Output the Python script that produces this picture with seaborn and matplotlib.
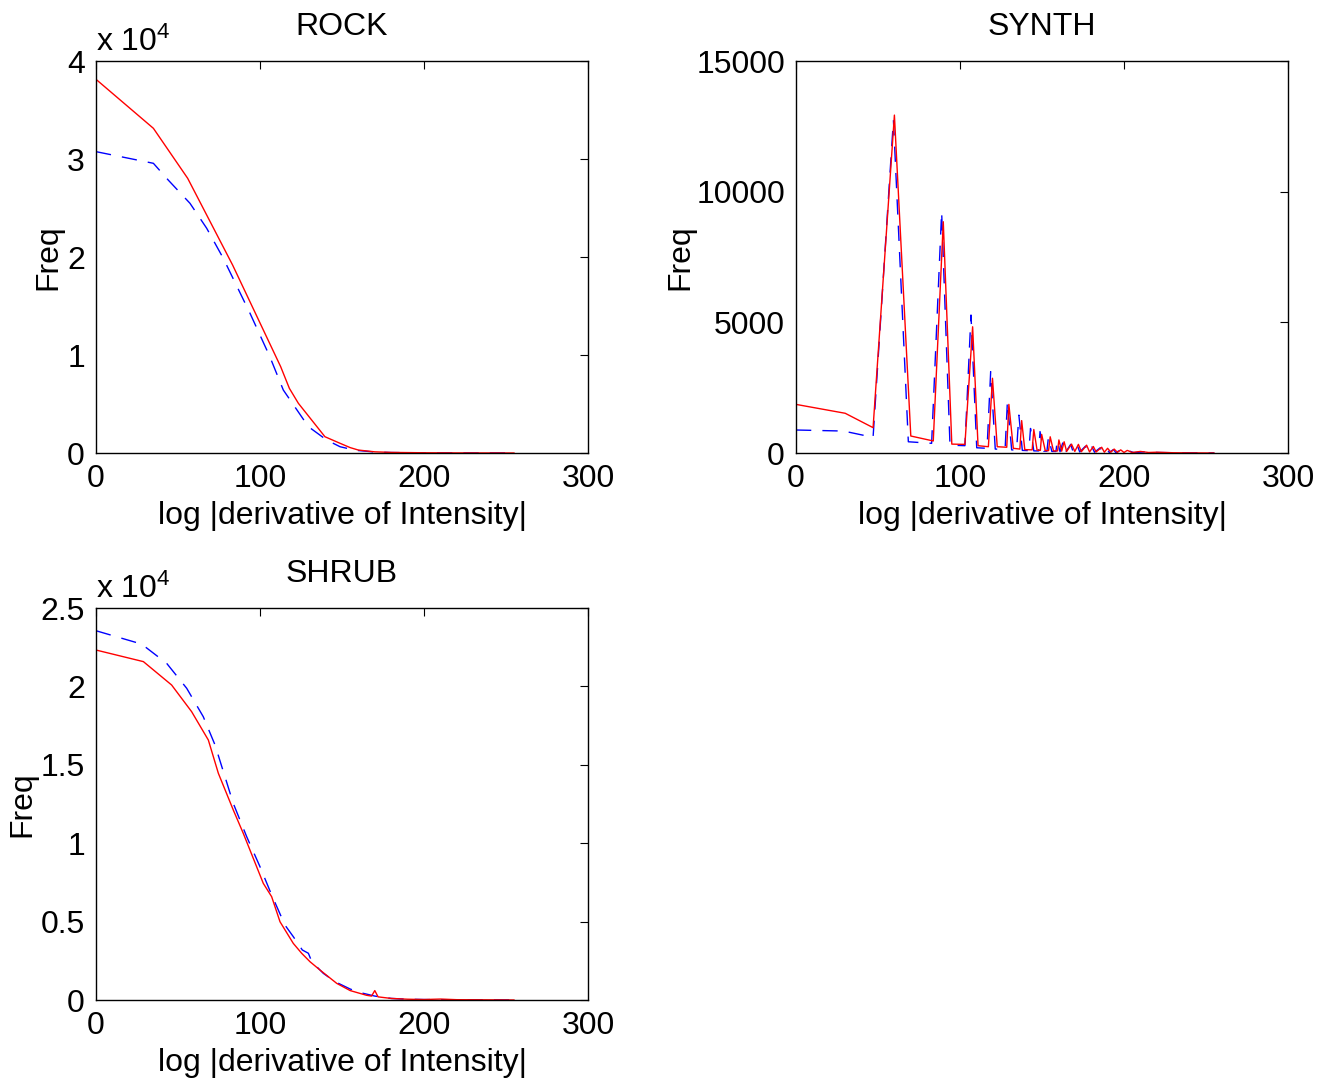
import matplotlib
matplotlib.use("Agg")
import matplotlib.pyplot as plt
import seaborn as sns
import pandas as pd
from matplotlib.ticker import FuncFormatter

# ---------------- data ----------------
rock_red_x = [0, 35, 55.9, 83.3, 112.6, 117.9, 123.4, 139.6, 148.8, 155, 160, 170, 180, 200, 220, 240, 255]
rock_red_y = [38130, 33130, 28030, 19180, 8810, 6600, 5070, 1660, 990, 550, 300, 120, 60, 25, 10, 5, 0]
rock_blue_x = [0, 35, 44, 57.3, 67.5, 77.6, 93.9, 106, 114.2, 129.5, 140.6, 148.8, 155, 160, 170, 180, 200, 220, 240, 255]
rock_blue_y = [30750, 29560, 27860, 25480, 22930, 19870, 14260, 9830, 6430, 2690, 1330, 640, 400, 250, 100, 50, 20, 10, 5, 0]

synth_red_x = [0, 30, 47, 60, 70, 83.7, 89.8, 95, 103, 107.7, 111, 117.3, 119.8, 122.7, 128.5, 129.8,
               132.5, 136.5, 137.6, 139.5, 144, 145, 147, 149, 149.8, 152, 154, 155, 157, 159.5, 160.3,
               162, 163.5, 165, 168, 170, 172.2, 174, 177.2, 179, 181.3, 183, 186.4, 188, 190, 192, 194,
               196, 198, 200, 202, 205, 210, 215, 220, 230, 240, 255]
synth_red_y = [1860, 1520, 970, 12930, 650, 460, 8850, 340, 330, 4830, 280, 240, 2860, 240, 220, 1860,
               180, 150, 1240, 130, 120, 900, 110, 100, 710, 90, 90, 620, 80, 80, 500,
               70, 430, 60, 340, 60, 330, 50, 300, 40, 250, 40, 220, 30, 180, 30, 150,
               25, 120, 20, 100, 20, 60, 20, 30, 10, 5, 0]
synth_blue_x = [0, 29, 47, 59.4, 68.5, 82.7, 88.8, 93.9, 103, 106.7, 110.2, 116.5, 118.7, 121.5, 127.5,
                128.9, 131.5, 134.5, 135.9, 138, 142, 143, 145, 148, 148.8, 151, 153, 153.9, 156, 158.5,
                159.3, 161, 162.8, 164.5, 167.5, 169, 171.5, 173, 176.5, 178, 180.5, 182, 185.5, 187,
                189.5, 191, 193.5, 195, 197.5, 199, 203, 206, 212, 220, 235, 255]
synth_blue_y = [880, 840, 600, 12740, 430, 370, 9230, 300, 280, 5280, 200, 180, 3110, 150, 140,
                1960, 120, 110, 1450, 100, 90, 940, 80, 80, 820, 70, 70, 600, 60, 60,
                480, 50, 420, 40, 330, 40, 300, 40, 260, 30, 230, 30, 200, 25,
                160, 20, 130, 20, 100, 15, 80, 15, 40, 20, 5, 0]

shrub_red_x = [0, 28.9, 46.1, 58.3, 68.5, 74.6, 83.7, 89.8, 102, 107.1, 112.2, 120.3, 125.4, 130.5,
               136.6, 146.8, 155, 160, 165, 168, 170, 172, 180, 190, 200, 210, 220, 240, 255]
shrub_red_y = [22320, 21580, 20090, 18390, 16580, 14460, 12120, 10630, 7440, 6590, 4990, 3610, 2980, 2440,
               1910, 1060, 600, 450, 300, 250, 600, 200, 100, 50, 30, 60, 20, 10, 0]
shrub_blue_x = [0, 27.8, 43.1, 55.3, 65.4, 72.6, 83.7, 91.9, 100, 107.1, 115.2, 120.3, 125.8, 129.5,
                131.6, 138.6, 145.7, 155, 160, 170, 180, 190, 200, 220, 255]
shrub_blue_y = [23550, 22700, 21470, 19880, 18070, 16260, 12540, 10410, 8500, 6700, 4780, 4040, 3190, 2980,
                2440, 1700, 1170, 700, 500, 250, 100, 50, 30, 15, 0]

titles = ["ROCK", "SYNTH", "SHRUB"]
x_ticks = [0, 100, 200, 300]
rock_yticks = [0, 10000, 20000, 30000, 40000]
synth_yticks = [0, 5000, 10000, 15000]
shrub_yticks = [0, 5000, 10000, 15000, 20000, 25000]

# ---------------- style ----------------
sns.set_style("white")
plt.rcParams['font.family'] = ['Liberation Sans', 'DejaVu Sans']
plt.rcParams['mathtext.fontset'] = 'custom'
plt.rcParams['mathtext.rm'] = 'Liberation Sans'
plt.rcParams['mathtext.it'] = 'Liberation Sans'
plt.rcParams['text.color'] = 'black'
plt.rcParams['axes.labelcolor'] = 'black'
plt.rcParams['xtick.color'] = 'black'
plt.rcParams['ytick.color'] = 'black'
FS = 23

fig = plt.figure(figsize=(13.21, 10.82), dpi=100)
W, H = 1321, 1082


def add_ax(left, top, right, bottom):
    return fig.add_axes([left / W, 1 - bottom / H, (right - left) / W, (bottom - top) / H])


ax_rock = add_ax(96, 61, 588, 453)
ax_synth = add_ax(796, 61, 1288, 453)
ax_shrub = add_ax(96, 608, 588, 1000)


def draw(ax, rx, ry, bx, by, title, yticks, scale, fmt, ylabel_x):
    dfr = pd.DataFrame({"x": rx, "y": ry})
    dfb = pd.DataFrame({"x": bx, "y": by})
    sns.lineplot(data=dfb, x="x", y="y", ax=ax, color="#0000ff", lw=1.0,
                 dashes=False, estimator=None, sort=False)
    ax.lines[-1].set_dashes((11, 8))
    sns.lineplot(data=dfr, x="x", y="y", ax=ax, color="#ff0000", lw=1.0,
                 estimator=None, sort=False)
    ax.set_xlim(0, 300)
    ax.set_ylim(yticks[0], yticks[-1])
    ax.set_xticks(x_ticks)
    ax.set_yticks(yticks)
    ax.yaxis.set_major_formatter(FuncFormatter(fmt))
    ax.tick_params(direction="in", top=True, right=True, length=6, width=0.8,
                   labelsize=FS, pad=8, colors="black")
    for s in ax.spines.values():
        s.set_visible(True)
        s.set_color("black")
        s.set_linewidth(1.0)
    ax.set_title(title, fontsize=FS, pad=19, color="black")
    ax.set_xlabel("log |derivative of Intensity|", fontsize=FS, labelpad=5)
    ax.set_ylabel("Freq", fontsize=FS)
    ax.yaxis.set_label_coords(ylabel_x, 0.5)
    if scale:
        ax.text(0.0, 1.008, "x 10$^{4}$", transform=ax.transAxes, fontsize=FS,
                ha="left", va="bottom")


def f_e4(v, p):
    s = "%g" % (v / 1e4)
    return s


def f_plain(v, p):
    return "%d" % v


draw(ax_rock, rock_red_x, rock_red_y, rock_blue_x, rock_blue_y, titles[0], rock_yticks, True, f_e4, -0.066)
draw(ax_synth, synth_red_x, synth_red_y, synth_blue_x, synth_blue_y, titles[1], synth_yticks, False, f_plain, -0.205)
draw(ax_shrub, shrub_red_x, shrub_red_y, shrub_blue_x, shrub_blue_y, titles[2], shrub_yticks, True, f_e4, -0.119)

fig.savefig("out.png", dpi=100, facecolor="white")
